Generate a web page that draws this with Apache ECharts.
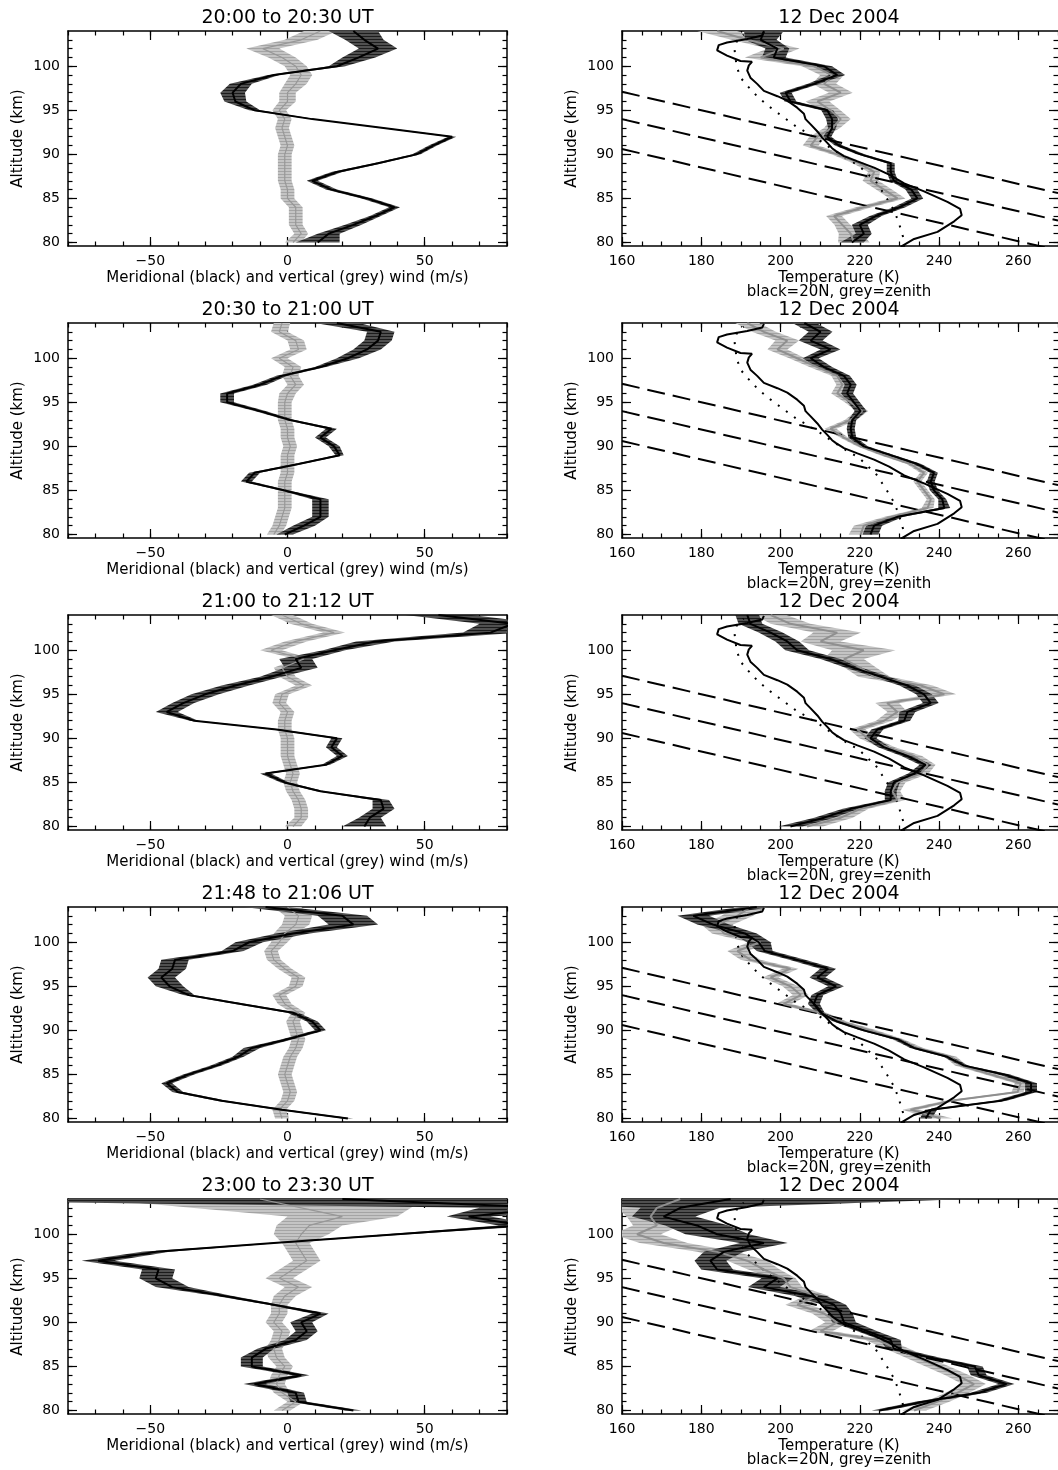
<!DOCTYPE html>
<html><head><meta charset="utf-8">
<script src="https://cdn.jsdelivr.net/npm/echarts@6/dist/echarts.min.js"></script>
<style>html,body{margin:0;padding:0;background:#fff;overflow:hidden}#c{width:1058px;height:1470px}</style>
</head><body><div id="c"></div><script>
// ---------------- DATA ----------------
const altitudes = [80,81,82,83,84,85,86,87,88,89,90,91,92,93,94,95,96,97,98,99,100,101,102,103,104];
const windTitles = ['20:00 to 20:30 UT','20:30 to 21:00 UT','21:00 to 21:12 UT','21:48 to 21:06 UT','23:00 to 23:30 UT'];
const tempTitle = '12 Dec 2004';
const windLabelVals = [-50, 0, 50];
const windMinorVals = [-80,-70,-60,-50,-40,-30,-20,-10,0,10,20,30,40,50,60,70,80];
const tempLabelVals = [160,180,200,220,240,260];
const tempMinorVals = [160,165,170,175,180,185,190,195,200,205,210,215,220,225,230,235,240,245,250,255,260,265,270];
const altLabelVals = [80,85,90,95,100];
const altMinorVals = [80,81,82,83,84,85,86,87,88,89,90,91,92,93,94,95,96,97,98,99,100,101,102,103];

// meridional (black) and vertical (grey) winds, m/s, with error half-widths
const merid1 = [11,15,24,32,39,29,16,9,18,33,47,53,60,35,9,-12,-19,-20,-17,-5,18,26,33,28,24];
const meridErr1 = [8,4,3,2,2,2,2,2,2,1.5,1.5,1.5,1.5,1,1,2,4,4.5,4,2,3,6,7,7,9];
const vert1 = [2,5,3,3,3,0,0,-1,-1,-1,-1,0,-1,-2,-1,-3,0,0,3,5,3,-2,-9,5,12];
const vertErr1 = [3,2.5,2.5,2.5,2.5,2.5,2.5,2.5,2.5,2.5,2.5,2.5,2.5,2.5,2.5,2.5,3,3,4,4,4,5,6,6,6];

const merid2 = [-1,6,12,12,12,-1,-15,-12,4,19,17,12,16,1,-10,-22,-22,-10,-2,12,22,29,33,34,18];
const meridErr2 = [3,4,3,3,3,1.5,2,2,1.5,1.5,2,2,2,1.5,2,2.5,2.5,2.5,2,2,4,5,5,5,8];
const vert2 = [-5,-3,-2,-1,-1,-1,-1,0,0,0,1,0,0,-1,-1,-1,0,3,1,2,-3,4,3,-3,-2];
const vertErr2 = [2.5,2.5,2.5,2.5,2.5,2.5,2.5,2.5,2.5,2.5,2.5,2.5,2.5,2.5,2.5,2.5,3,3,3,3,3,3,3,3,3];

const merid3 = [28,30,35,34,12,-1,-8,14,20,16,18,-4,-34,-44,-38,-30,-19,-6,5,3,17,32,74,82,55];
const meridErr3 = [8,4,4,3,1.5,1.5,2,1.5,2,2,2,1.5,1.5,4,4,5,5,4,6,6,4,7,10,12,12];
const vert3 = [2,5,5,4,2,1,2,1,0,0,0,-1,-1,0,-3,-2,6,0,-2,6,-6,3,17,5,-2];
const vertErr3 = [3,2.5,2.5,2.5,2.5,2.5,2.5,2.5,2.5,2.5,2.5,2.5,2.5,2.5,2.5,2.5,3,3,3,3,4,4,4,4,4];

const merid4 = [22,-2,-24,-40,-44,-36,-26,-18,-13,0,12,9,2,-17,-36,-43,-46,-42,-41,-20,-14,2,24,20,-8];
const meridErr4 = [2,2,2,2,2,2,2,2,3,2,2,2,2,2,2,5,5,5,5,4,5,6,9,9,8];
const vert4 = [-2,-3,0,1,0,-1,0,1,3,4,3,2,4,-1,-3,3,4,-1,-5,-6,-3,-1,3,4,0];
const vertErr4 = [2.5,2.5,2.5,2.5,2.5,2.5,2.5,2.5,2.5,2.5,2.5,2.5,2.5,2.5,2.5,2.5,2.5,2.5,2.5,2.5,3,4,5,5,5];

const merid5 = [24,4,3,-12,5,-13,-13,-8,3,7,5,12,-5,-23,-42,-48,-47,-69,-48,-5,40,85,66,95,20];
const meridErr5 = [3,3,3,4,3,4,4,3,4,4,4,3,2,3,6,6,6,6,5,2,4,8,8,25,200];
const vert5 = [-2,3,-2,-4,-3,-1,-4,-5,-3,-2,-5,-3,-3,-1,4,-3,2,7,5,3,5,8,20,5,-10];
const vertErr5 = [3,3,3,3,3,3,3,3,3,3,3,3,3,4,5,5,5,5,5,5,10,12,20,40,60];

// temperatures (K): black = 20N, grey = zenith, with error half-widths
const t20N1 = [218,221,220,224,230,234.5,233,228.6,227.8,227.8,220.2,214.7,211.8,213,213,211.8,202.5,201.3,208.4,214.3,211,198.3,199.2,195,195.8];
const t20NErr1 = [3,2,2,1.5,1.5,1.5,1.5,1,1,1,1,1,1,1,1.5,1.5,1.5,1.5,1.5,2,2,3,3,4,5];
const tZen1 = [218.5,217.7,215.6,213.5,221,229.5,226.1,222.7,223.6,219.8,214.3,207.6,209.3,213,215.2,212.6,209.3,215.2,211,213,208.4,195,200.8,191.6,184];
const tZenErr1 = [4,3,2,2,2,2,2,2,1.5,1.5,1.5,2,2,2,2.5,2.5,3,3,3,3,3,4,4,4,5];

const t20N2 = [222.7,223.6,229.5,241.3,240.8,238.7,237.9,238.7,234.5,227.8,221,218.1,217.7,218.1,220.2,218.5,216.8,217.7,216,211,207.6,212.6,207.6,210.1,206];
const t20NErr2 = [2,2,1.5,1.5,1,1,1,1,1,1,1,1,1,1,1.5,1.5,1.5,1.5,1.5,2,2,2.5,3,3,3];
const tZen2 = [220.2,221,227.8,237.1,237.9,236.2,234.5,236.2,232.8,226.1,220.2,216,212.6,217.7,220.6,217.7,214.3,215.6,214.3,209.3,204.2,199.2,201.7,195.8,191.6];
const tZenErr2 = [3,2.5,1.5,1.5,1,1,1,1,1,1,1,1,1.5,1.5,1.5,1.5,1.5,1.5,1.5,2,2,2.5,3,3,3];

const t20N3 = [202.5,211,217.7,227.8,227.8,228.6,233.7,236.6,232,226.1,222.7,224.4,231.2,232,237.9,236.2,232,225.3,218.5,212.6,204.2,201.7,197.5,192.4,191.6];
const t20NErr3 = [3,2.5,2,1.5,1.5,1.5,1.5,1.5,1.5,1.5,1.5,1.5,1.5,2,2,2,2,2,2,2.5,3,3,3,3,3];
const tZen3 = [206.7,215.2,220.2,229.5,228.2,229.5,235.4,237.1,233.7,226.9,221.9,219.4,226.1,229.5,226.9,241.3,235.4,223.6,220.2,216,221,210.1,214.3,202.5,197.5];
const tZenErr3 = [4,3,2,2,2,2,2,2,2,2,2,2,2,2.5,3,3,3,4,4,5,8,5,6,5,4];

const t20N4 = [236.6,238,255.6,263.2,263.2,256.4,246.3,242.1,233.7,229.5,221,214.3,210.1,208.4,209.3,214,209.3,212,204.2,196,194.5,191,183,178,194];
const t20NErr4 = [1.5,1.5,1.5,1.5,1.5,1.5,1,1,1,1,1,1,1,1.5,1.5,2,2,2,2,2,3,3,4,4,4];
const tZen4 = [240.4,232.8,242.9,259.8,260.6,253.1,245.5,242.9,234.5,229.5,222.7,215.2,210.1,200.8,205.1,202.5,197.5,202.5,192.4,189.1,194.9,185.7,184,189.1,192.4];
const tZenErr4 = [3,2,1.5,1.5,1.5,1.5,1.5,1.5,1.5,1.5,1.5,1.5,1.5,2,2,2,2,2,2.5,2.5,3,3,4,4,4];

const t20N5 = [225,236,250,257,250,249,238,228.6,227.8,221.9,216,215.2,213.5,207.6,195.8,199.2,184,182.3,185.7,195.8,184,178.9,170.5,174.7,187.4];
const t20NErr5 = [2,2,2,2,2,2,2,2,2.5,2.5,3,3,3,4,4,4,4,4,5,6,8,8,8,10,60];
const tZen5 = [233.7,239.6,244.6,248.8,244.6,239.6,234.5,229.5,224.4,210.1,214.3,211,204.2,209.3,202.5,200.8,195.8,191.6,184,170.5,163.8,168.8,167.2,168.8,174.7];
const tZenErr5 = [3,3,3,3,3,3,3,3,3,3,3,3,3,3,3,3,4,5,5,6,6,6,6,10,60];

// reference profiles common to all temperature panels
const modelAlt = [79.5,80.4,81.2,82.4,83.1,83.8,84.6,85.8,86.7,87.7,88.5,89.2,89.8,90.4,90.7,91.3,91.9,92.6,93.4,94,94.6,95.3,96.1,96.6,97.2,98,98.7,99.5,100.1,100.5,100.6,101.2,101.8,102.4,102.7,103.1,103.5,103.9];
const modelT = [230.3,233.7,239.6,243.8,245.7,245.3,242.1,236.2,231.2,227.4,223.6,219.4,216,213.9,213,211.8,210.5,209.3,207.6,206.3,205.9,204.2,201.7,199.2,195.8,194.1,192.4,191.6,192,192.8,189.9,186.5,184,184.4,186.5,191.6,195.4,195.8];
const dotAlt = [79.5,80.5,82,83.5,84.8,85.7,86.8,87.8,88.7,89.6,90.6,91.5,92.3,93.2,94.2,95.3,96.4,97.6,98.7,99.9,101,101.9,102.9,103.6];
const dotT = [231.2,231,230,228.8,227.1,225.8,224.2,221.9,219.8,216.4,213,210.1,207.2,203.8,200.8,197.5,194.5,192,189.9,189,188.6,188.4,189,190.7];
const dashT = [160, 270];
const dashAlt1 = [97.1, 85.6];
const dashAlt2 = [94.0, 82.5];
const dashAlt3 = [90.6, 79.1];

const windPanels = [
  [merid1, meridErr1, vert1, vertErr1],
  [merid2, meridErr2, vert2, vertErr2],
  [merid3, meridErr3, vert3, vertErr3],
  [merid4, meridErr4, vert4, vertErr4],
  [merid5, meridErr5, vert5, vertErr5]
];
const tempPanels = [
  [t20N1, t20NErr1, tZen1, tZenErr1],
  [t20N2, t20NErr2, tZen2, tZenErr2],
  [t20N3, t20NErr3, tZen3, tZenErr3],
  [t20N4, t20NErr4, tZen4, tZenErr4],
  [t20N5, t20NErr5, tZen5, tZenErr5]
];

// ---------------- LAYOUT ----------------
const FONT = '"DejaVu Sans", sans-serif';
const ROW_TOPS = [31, 323, 615, 907, 1199];
const PLOT_H = 215;
const L_LEFT = 68, L_W = 439;
const R_LEFT = 622, R_W = 436;
const Y_MIN = 79.6, Y_MAX = 104;

function hatch(c1, c2) {
  const cv = document.createElement('canvas'); cv.width = 8; cv.height = 3;
  const ctx = cv.getContext('2d');
  ctx.fillStyle = c2; ctx.fillRect(0, 0, 8, 3);
  ctx.fillStyle = c1; ctx.fillRect(0, 0, 8, 1);
  return { image: cv, repeat: 'repeat' };
}
const DARK = hatch('#1c1c1c', '#505050');
const LIGHT = hatch('#a4a4a4', '#c4c4c4');

const grids = [], xAxes = [], yAxes = [], series = [], graphics = [];
const LBL = { fontSize: 14, color: '#000', fontFamily: FONT };

function addAxes(gi, xmin, xmax, xLab, xMin, xFmt, showRightLine) {
  const base = { gridIndex: gi, type: 'value', splitLine: { show: false }, silent: true };
  const lineOn = { show: true, onZero: false, lineStyle: { color: '#000', width: 1.5 } };
  const lineOff = { show: false, onZero: false };
  const tk = { color: '#000', width: 1.2 };
  const xi = xAxes.length;
  xAxes.push(Object.assign({}, base, { min: xmin, max: xmax, position: 'bottom', axisLine: lineOn,
    axisTick: { show: true, inside: true, length: 9, customValues: xLab, lineStyle: tk },
    axisLabel: Object.assign({ show: true, customValues: xLab, formatter: xFmt, margin: 8 }, LBL) }));
  xAxes.push(Object.assign({}, base, { min: xmin, max: xmax, position: 'bottom', axisLine: lineOff,
    axisTick: { show: true, inside: true, length: 4.5, customValues: xMin, lineStyle: tk }, axisLabel: { show: false } }));
  xAxes.push(Object.assign({}, base, { min: xmin, max: xmax, position: 'top', axisLine: lineOn,
    axisTick: { show: true, inside: true, length: 9, customValues: xLab, lineStyle: tk }, axisLabel: { show: false } }));
  xAxes.push(Object.assign({}, base, { min: xmin, max: xmax, position: 'top', axisLine: lineOff,
    axisTick: { show: true, inside: true, length: 4.5, customValues: xMin, lineStyle: tk }, axisLabel: { show: false } }));
  const yi = yAxes.length;
  yAxes.push(Object.assign({}, base, { min: Y_MIN, max: Y_MAX, position: 'left', axisLine: lineOn,
    axisTick: { show: true, inside: true, length: 9, customValues: altLabelVals, lineStyle: tk },
    axisLabel: Object.assign({ show: true, customValues: altLabelVals, margin: 8 }, LBL) }));
  yAxes.push(Object.assign({}, base, { min: Y_MIN, max: Y_MAX, position: 'left', axisLine: lineOff,
    axisTick: { show: true, inside: true, length: 4.5, customValues: altMinorVals, lineStyle: tk }, axisLabel: { show: false } }));
  yAxes.push(Object.assign({}, base, { min: Y_MIN, max: Y_MAX, position: 'right', axisLine: showRightLine ? lineOn : lineOff,
    axisTick: { show: true, inside: true, length: 9, customValues: altLabelVals, lineStyle: tk }, axisLabel: { show: false } }));
  yAxes.push(Object.assign({}, base, { min: Y_MIN, max: Y_MAX, position: 'right', axisLine: lineOff,
    axisTick: { show: true, inside: true, length: 4.5, customValues: altMinorVals, lineStyle: tk }, axisLabel: { show: false } }));
  return [xi, yi];
}

function bandSeries(xi, yi, vals, errs, fill, z) {
  return {
    type: 'custom', coordinateSystem: 'cartesian2d', xAxisIndex: xi, yAxisIndex: yi, clip: true, silent: true, z: z,
    data: [[vals[0], altitudes[0]]],
    renderItem: function (params, api) {
      const pts = [];
      for (let k = 0; k < altitudes.length; k++) pts.push(api.coord([vals[k] - errs[k], altitudes[k]]));
      for (let k = altitudes.length - 1; k >= 0; k--) pts.push(api.coord([vals[k] + errs[k], altitudes[k]]));
      return { type: 'polygon', shape: { points: pts }, style: { fill: fill, stroke: null } };
    }
  };
}
function lineSeries(xi, yi, xs, ys, color, width, type, z) {
  return {
    type: 'line', xAxisIndex: xi, yAxisIndex: yi, data: xs.map((v, k) => [v, ys[k]]),
    showSymbol: false, symbol: 'none', clip: true, silent: true, z: z,
    lineStyle: { color: color, width: width, type: type || 'solid' }
  };
}
function txt(x, y, s, size, rot) {
  graphics.push({ type: 'text', x: x, y: y, rotation: rot || 0, silent: true,
    style: { text: s, fontSize: size, fontFamily: FONT, fill: '#000', align: 'center', verticalAlign: 'middle',
             textAlign: 'center', textVerticalAlign: 'middle' } });
}
const windFmt = v => (v < 0 ? '\u2212' + Math.abs(v) : String(v));

for (let r = 0; r < 5; r++) {
  const top = ROW_TOPS[r], bottom = top + PLOT_H;
  // wind panel
  let gi = grids.length;
  grids.push({ left: L_LEFT, top: top, width: L_W, height: PLOT_H });
  let [xi, yi] = addAxes(gi, -80, 80, windLabelVals, windMinorVals, windFmt, true);
  const wp = windPanels[r];
  series.push(bandSeries(xi, yi, wp[2], wp[3], LIGHT, 1));
  series.push(bandSeries(xi, yi, wp[0], wp[1], DARK, 2));
  series.push(lineSeries(xi, yi, wp[2], altitudes, '#979797', 1.2, 'solid', 3));
  series.push(lineSeries(xi, yi, wp[0], altitudes, '#000', 2, 'solid', 4));
  txt(L_LEFT + L_W / 2, top - 13, windTitles[r], 19);
  txt(L_LEFT + L_W / 2, bottom + 32, 'Meridional (black) and vertical (grey) wind (m/s)', 15);
  txt(18, top + PLOT_H / 2, 'Altitude (km)', 15, Math.PI / 2);

  // temperature panel
  gi = grids.length;
  grids.push({ left: R_LEFT, top: top, width: R_W, height: PLOT_H });
  [xi, yi] = addAxes(gi, 160, 270, tempLabelVals, tempMinorVals, v => String(v), false);
  const tp = tempPanels[r];
  series.push(bandSeries(xi, yi, tp[2], tp[3], LIGHT, 1));
  series.push(bandSeries(xi, yi, tp[0], tp[1], DARK, 2));
  series.push(lineSeries(xi, yi, dashT, dashAlt1, '#000', 2, [18, 8], 3));
  series.push(lineSeries(xi, yi, dashT, dashAlt2, '#000', 2, [18, 8], 3));
  series.push(lineSeries(xi, yi, dashT, dashAlt3, '#000', 2, [18, 8], 3));
  series.push(lineSeries(xi, yi, dotT, dotAlt, '#000', 2, [2, 8], 3));
  series.push(lineSeries(xi, yi, tp[2], altitudes, '#8f8f8f', 2, 'solid', 4));
  series.push(lineSeries(xi, yi, tp[0], altitudes, '#000', 2, 'solid', 5));
  series.push(lineSeries(xi, yi, modelT, modelAlt, '#000', 2, 'solid', 6));
  txt(R_LEFT + 217, top - 13, tempTitle, 19);
  txt(R_LEFT + 217, bottom + 32, 'Temperature (K)', 15);
  txt(R_LEFT + 217, bottom + 46, 'black=20N, grey=zenith', 15);
  txt(572, top + PLOT_H / 2, 'Altitude (km)', 15, Math.PI / 2);
}

const chart = echarts.init(document.getElementById('c'), null, { renderer: 'canvas' });
chart.setOption({
  animation: false,
  backgroundColor: '#fff',
  textStyle: { fontFamily: FONT },
  grid: grids, xAxis: xAxes, yAxis: yAxes, series: series, graphic: graphics
});
</script></body></html>
